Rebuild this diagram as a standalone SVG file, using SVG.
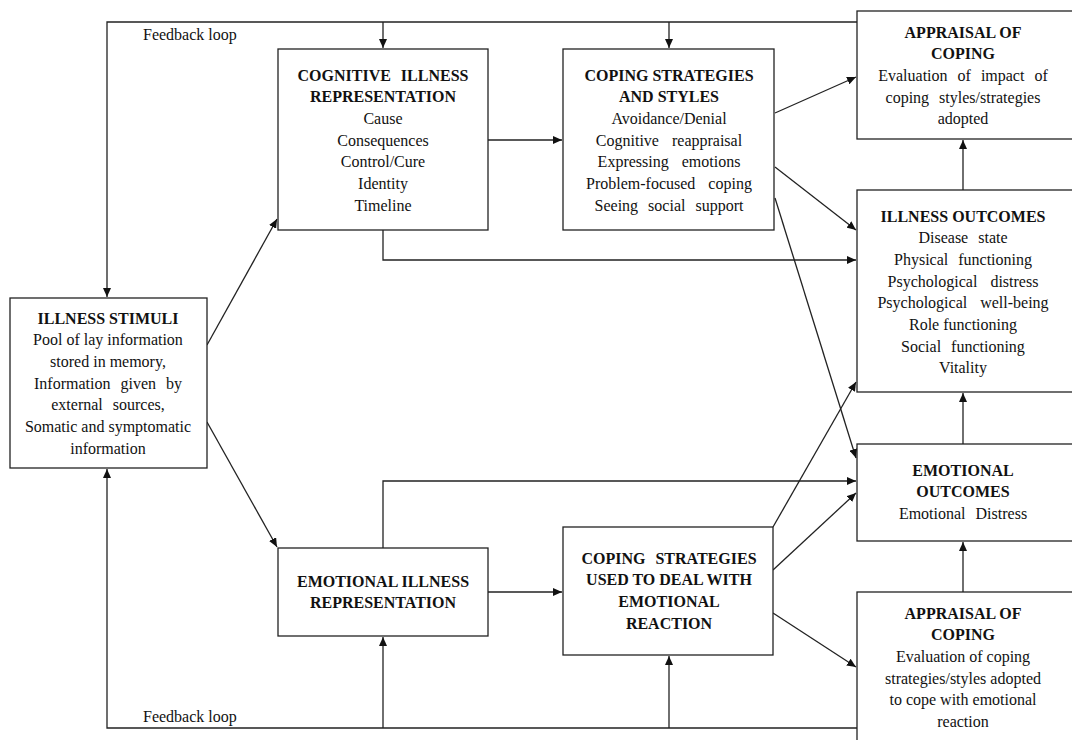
<svg xmlns="http://www.w3.org/2000/svg" width="1072" height="740" viewBox="0 0 1072 740">
<style>
.box{fill:#fff;stroke:#222;stroke-width:1.3}
.t{font-family:"Liberation Serif","Times New Roman",serif;font-size:16px;fill:#111;text-anchor:middle}
.b{font-weight:bold}
.w{word-spacing:6px}
.w2{word-spacing:9px}
.l{font-family:"Liberation Serif","Times New Roman",serif;font-size:16px;fill:#111}
.c{fill:none;stroke:#222;stroke-width:1.3}
</style>
<defs>
<marker id="ah" markerUnits="userSpaceOnUse" markerWidth="10" markerHeight="8" refX="9" refY="4" orient="auto">
<path d="M0,0 L9,4 L0,8 Z" fill="#111"/>
</marker>
</defs>
<rect width="1072" height="740" fill="#fff"/>
<g id="connectors">
<path class="c" d="M857,22 H107 V297" marker-end="url(#ah)"/>
<path class="c" d="M383,22 V48" marker-end="url(#ah)"/>
<path class="c" d="M669,22 V48" marker-end="url(#ah)"/>
<path class="c" d="M857,728 H107 V469" marker-end="url(#ah)"/>
<path class="c" d="M383,728 V637" marker-end="url(#ah)"/>
<path class="c" d="M669,728 V656" marker-end="url(#ah)"/>
<path class="c" d="M207,345 L277,219" marker-end="url(#ah)"/>
<path class="c" d="M207,422 L277,547" marker-end="url(#ah)"/>
<path class="c" d="M488,140 H562" marker-end="url(#ah)"/>
<path class="c" d="M383,230 V260 H856" marker-end="url(#ah)"/>
<path class="c" d="M775,113 L856,77" marker-end="url(#ah)"/>
<path class="c" d="M775,167 L856,230" marker-end="url(#ah)"/>
<path class="c" d="M775,198 L856,458" marker-end="url(#ah)"/>
<path class="c" d="M963,190 V140" marker-end="url(#ah)"/>
<path class="c" d="M963,444 V393" marker-end="url(#ah)"/>
<path class="c" d="M963,592 V542" marker-end="url(#ah)"/>
<path class="c" d="M488,592 H562" marker-end="url(#ah)"/>
<path class="c" d="M383,548 V481 H856" marker-end="url(#ah)"/>
<path class="c" d="M773,527 L856,382" marker-end="url(#ah)"/>
<path class="c" d="M773,570 L856,493" marker-end="url(#ah)"/>
<path class="c" d="M773,613 L856,667" marker-end="url(#ah)"/>
<text class="l" x="143" y="40">Feedback loop</text>
<text class="l" x="143" y="722">Feedback loop</text>
</g>
<g id="illness-stimuli">
<rect class="box" x="10" y="298" width="197" height="170"/>
<text class="t b" x="108" y="323.5">ILLNESS STIMULI</text>
<text class="t" x="108" y="345.2">Pool of lay information</text>
<text class="t" x="108" y="366.9">stored in memory,</text>
<text class="t w" x="108" y="388.6">Information given by</text>
<text class="t w" x="108" y="410.3">external sources,</text>
<text class="t" x="108" y="432">Somatic  and symptomatic</text>
<text class="t" x="108" y="453.7">information</text>
</g>
<g id="cognitive-rep">
<rect class="box" x="278" y="49" width="210" height="181"/>
<text class="t b w" x="383" y="80.5">COGNITIVE ILLNESS</text>
<text class="t b" x="383" y="102.2">REPRESENTATION</text>
<text class="t" x="383" y="123.9">Cause</text>
<text class="t" x="383" y="145.6">Consequences</text>
<text class="t" x="383" y="167.3">Control/Cure</text>
<text class="t" x="383" y="189">Identity</text>
<text class="t" x="383" y="210.7">Timeline</text>
</g>
<g id="coping-strategies">
<rect class="box" x="563" y="49" width="211" height="181"/>
<text class="t b" x="669" y="80.5">COPING STRATEGIES</text>
<text class="t b" x="669" y="102.2">AND STYLES</text>
<text class="t" x="669" y="123.9">Avoidance/Denial</text>
<text class="t w2" x="669" y="145.6">Cognitive reappraisal</text>
<text class="t w2" x="669" y="167.3">Expressing emotions</text>
<text class="t w2" x="669" y="189">Problem-focused coping</text>
<text class="t w" x="669" y="210.7">Seeing social support</text>
</g>
<g id="appraisal-top">
<rect class="box" x="857" y="11" width="220" height="128"/>
<text class="t b" x="963" y="37.5">APPRAISAL OF</text>
<text class="t b" x="963" y="59.2">COPING</text>
<text class="t w" x="963" y="80.9">Evaluation of impact of</text>
<text class="t w" x="963" y="102.6">coping styles/strategies</text>
<text class="t" x="963" y="124.3">adopted</text>
</g>
<g id="illness-outcomes">
<rect class="box" x="857" y="190" width="220" height="202"/>
<text class="t b" x="963" y="221.5">ILLNESS OUTCOMES</text>
<text class="t w" x="963" y="243.2">Disease state</text>
<text class="t w" x="963" y="264.9">Physical functioning</text>
<text class="t w2" x="963" y="286.6">Psychological distress</text>
<text class="t w2" x="963" y="308.3">Psychological well-being</text>
<text class="t" x="963" y="330">Role functioning</text>
<text class="t w" x="963" y="351.7">Social functioning</text>
<text class="t" x="963" y="373.4">Vitality</text>
</g>
<g id="emotional-outcomes">
<rect class="box" x="857" y="444" width="220" height="97"/>
<text class="t b" x="963" y="475.5">EMOTIONAL</text>
<text class="t b" x="963" y="497.2">OUTCOMES</text>
<text class="t w" x="963" y="518.9">Emotional Distress</text>
</g>
<g id="appraisal-bottom">
<rect class="box" x="857" y="592" width="220" height="160"/>
<text class="t b" x="963" y="618.5">APPRAISAL OF</text>
<text class="t b" x="963" y="640.2">COPING</text>
<text class="t" x="963" y="661.9">Evaluation  of coping</text>
<text class="t" x="963" y="683.6">strategies/styles  adopted</text>
<text class="t" x="963" y="705.3">to cope with  emotional</text>
<text class="t" x="963" y="727">reaction</text>
</g>
<g id="emotional-rep">
<rect class="box" x="278" y="548" width="210" height="88"/>
<text class="t b" x="383" y="586.5">EMOTIONAL ILLNESS</text>
<text class="t b" x="383" y="608.2">REPRESENTATION</text>
</g>
<g id="coping-emotional">
<rect class="box" x="563" y="527" width="210" height="128"/>
<text class="t b w" x="669" y="563.5">COPING STRATEGIES</text>
<text class="t b" x="669" y="585.2">USED TO DEAL WITH</text>
<text class="t b" x="669" y="606.9">EMOTIONAL</text>
<text class="t b" x="669" y="628.6">REACTION</text>
</g>
</svg>
